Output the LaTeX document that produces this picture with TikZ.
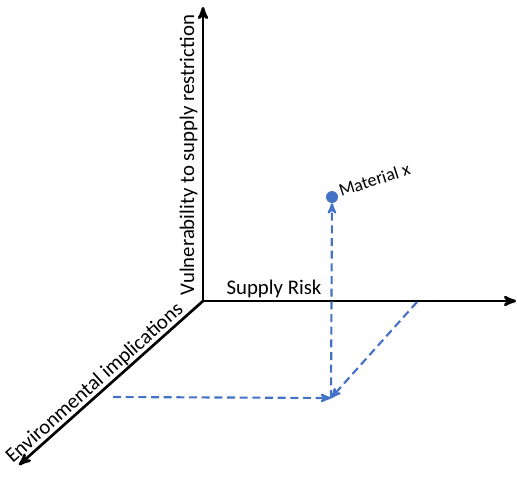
\documentclass[tikz,border=0pt]{standalone}
\usepackage{fontspec}
\setmainfont{Carlito}
\usetikzlibrary{arrows}
\definecolor{guideblue}{HTML}{4472C4}

\begin{document}
\begin{tikzpicture}[x=0.75pt,y=-0.75pt,>=stealth',
  axis/.style={->,line width=2pt},
  guide/.style={->,guideblue,line width=1.6pt,dash pattern=on 6pt off 3.5pt},
  lbl/.style={font=\fontsize{15.6}{18}\selectfont,inner sep=1pt}]
\useasboundingbox (0,0) rectangle (517,493);

% define the axes
  \coordinate (O)    at (203,301);
  \coordinate (yend) at (203,7);
  \coordinate (xend) at (516,301);
  \coordinate (zend) at (19,465);

  \draw[axis] (O) -- (yend);
  \draw[axis] (O) -- (xend);
  \draw[axis] (O) -- (zend);

% axis labels
  \node[lbl, rotate=90, anchor=south] (vlab) at (199,155)
{Vulnerability to supply restriction};
  \node[lbl, anchor=south]            (slab) at (274,299)
{Supply Risk};
  \path (O) -- (zend) node[lbl, pos=0.55, rotate=41.7, anchor=south] (elab)
{Environmental implications};

% the material and its projections
  \node[circle, fill=guideblue, inner sep=0pt, minimum size=9pt] (matx) at (332,197) {};
  \node[font=\fontsize{13.5}{16}\selectfont, rotate=18, anchor=base west, inner sep=0pt] (mlab) at (341,197)
{Material x};
  \coordinate (proj)  at (331,398);
  \coordinate (envpt) at (113,397);
  \coordinate (riskpt) at (417,302);

  \draw[guide] (envpt) -- (proj);
  \draw[guide] (riskpt) -- (proj);
  \draw[guide] (proj) -- (matx);

\end{tikzpicture}
\end{document}
